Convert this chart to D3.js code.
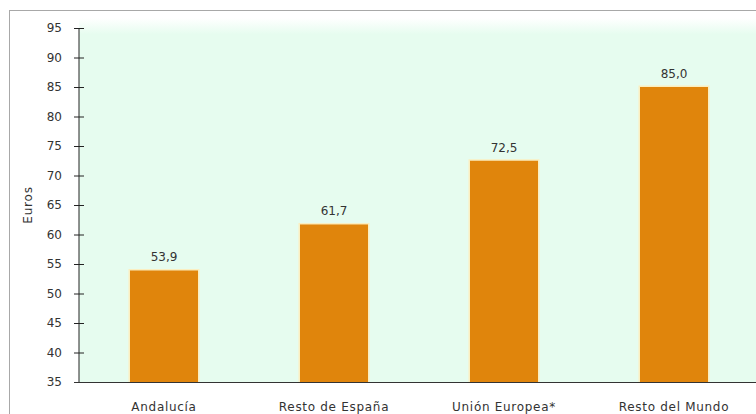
<!DOCTYPE html>
<html><head><meta charset="utf-8">
<script src="https://cdn.jsdelivr.net/npm/d3@7"></script>
<style>body{margin:0;background:#fff;overflow:hidden}</style>
</head><body>
<svg id="c" width="756" height="414"></svg>
<script>
const categories = ["Andalucía", "Resto de España", "Unión Europea*", "Resto del Mundo"];
const values = [53.9, 61.7, 72.5, 85.0];
const yTicks = [35, 40, 45, 50, 55, 60, 65, 70, 75, 80, 85, 90, 95];
const yLabel = "Euros";

const svg = d3.select("#c");
const m = {left: 79, top: 28, right: -3, bottom: 32};
const W = 756, H = 414;
const x = d3.scaleBand().domain(categories).range([m.left, W - m.right]).paddingInner(0.6).paddingOuter(0.3);
const y = d3.scaleLinear().domain([35, 95]).range([382, 28]);
const FONT = "DejaVu Sans";

// outer frame
svg.append("rect").attr("x", 9.5).attr("y", 10.5).attr("width", 760).attr("height", 420)
  .attr("fill", "#fff").attr("stroke", "#a8a8a8");

const defs = svg.append("defs");
const g = defs.append("linearGradient").attr("id", "bg").attr("x1", 0).attr("y1", 0).attr("x2", 0).attr("y2", 1);
g.append("stop").attr("offset", 0).attr("stop-color", "#ffffff");
g.append("stop").attr("offset", 0.045).attr("stop-color", "#e6fcef");
g.append("stop").attr("offset", 1).attr("stop-color", "#e6fcef");
svg.append("rect").attr("x", m.left).attr("y", 18).attr("width", W - m.left).attr("height", 382 - 18).attr("fill", "url(#bg)");

// bars
svg.selectAll("rect.glow").data(values).join("rect").attr("class", "glow")
  .attr("x", (d, i) => x(categories[i]) - 1.5).attr("y", d => y(d) - 1.5)
  .attr("width", x.bandwidth() + 3).attr("height", d => y(35) - y(d) + 1.5)
  .attr("fill", "#fbeec0");
svg.selectAll("rect.bar").data(values).join("rect").attr("class", "bar")
  .attr("x", (d, i) => x(categories[i])).attr("y", d => y(d))
  .attr("width", x.bandwidth()).attr("height", d => y(35) - y(d))
  .attr("fill", "#e0850c");

// value labels
svg.selectAll("text.val").data(values).join("text").attr("class", "val")
  .attr("x", (d, i) => x(categories[i]) + x.bandwidth() / 2).attr("y", d => y(d) - 9)
  .attr("text-anchor", "middle").attr("font-family", FONT).attr("font-size", 12)
  .attr("fill", "#333").text(d => d.toFixed(1).replace(".", ","));

// y axis
const ya = svg.append("g").attr("transform", `translate(${m.left},0)`)
  .call(d3.axisLeft(y).tickValues(yTicks).tickSize(5).tickPadding(12).tickFormat(d => d));
ya.select(".domain").attr("stroke", "#222").attr("d", `M0,${y(95)}V${y(35)}`);
ya.selectAll(".tick line").attr("x1", -5).attr("x2", 5).attr("stroke", "#222");
ya.selectAll(".tick text").attr("font-family", FONT).attr("font-size", 12).attr("fill", "#333");

// x axis
svg.append("line").attr("x1", 74).attr("x2", W).attr("y1", y(35) + 0.5).attr("y2", y(35) + 0.5).attr("stroke", "#333");
svg.selectAll("text.cat").data(categories).join("text").attr("class", "cat")
  .attr("x", d => x(d) + x.bandwidth() / 2).attr("y", 411)
  .attr("text-anchor", "middle").attr("font-family", FONT).attr("font-size", 12)
  .attr("letter-spacing", 0.7).attr("fill", "#333").text(d => d);

svg.append("text").attr("transform", `translate(32,${(y(35) + y(95)) / 2}) rotate(-90)`)
  .attr("text-anchor", "middle").attr("font-family", FONT).attr("font-size", 12)
  .attr("letter-spacing", 0.8).attr("fill", "#333").text(yLabel);
</script>
</body></html>
